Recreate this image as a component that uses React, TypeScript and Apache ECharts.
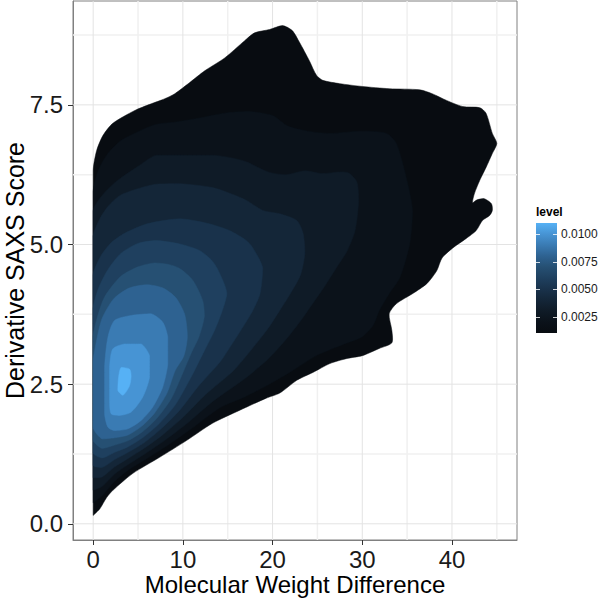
import React, { useEffect, useRef } from "react";
import * as echarts from "echarts";

// ---- axis ranges & ticks ----
const X_MIN = -2.25;
const X_MAX = 47.25;
const Y_MIN = -0.29;
const Y_MAX = 9.36;
const xMajorTicks = [0, 10, 20, 30, 40];
const xMinorTicks = [5, 15, 25, 35, 45];
const yMajorTicks = [0, 2.5, 5, 7.5];
const yMinorTicks = [1.25, 3.75, 6.25, 8.75];
const xTickLabels = ["0", "10", "20", "30", "40"];
const yTickLabels = ["0.0", "2.5", "5.0", "7.5"];

// ---- density contour levels (outer -> inner) ----
const levels = [0.001, 0.002, 0.003, 0.004, 0.005, 0.006, 0.007, 0.008, 0.009, 0.01, 0.011];
const bandColors = [
  "#080c11", "#0b121a", "#0f1b27", "#142638", "#19324b", "#1f405f",
  "#265073", "#2e6291", "#3a7bb3", "#4794d4", "#56b1f5",
];
const legendTicks = [0.0025, 0.005, 0.0075, 0.01];
const legendLabels = ["0.0025", "0.0050", "0.0075", "0.0100"];

// contour polygons in data coordinates [MW difference, SAXS score]
const contourL1 = [[0,0.15],[0,6.32],[0.38,6.68],[1.08,6.95],[2.19,7.17],[4.64,7.40],[6.31,7.51],[7.98,7.61],[9.1,7.70],[10.76,7.90],[12.43,8.11],[14.66,8.34],[16.89,8.65],[18.0,8.79],[19.67,8.85],[21.1,8.92],[22.2,8.83],[23.0,8.62],[24.1,8.29],[24.9,8.03],[25.6,7.94],[27.5,7.88],[30.0,7.83],[33.0,7.79],[36.4,7.77],[37.8,7.70],[39.4,7.58],[41.2,7.47],[43.1,7.45],[43.8,7.35],[44.5,6.99],[45.0,6.81],[44.5,6.63],[43.8,6.38],[43.1,6.15],[42.5,5.91],[42.3,5.75],[42.8,5.80],[43.6,5.82],[44.4,5.73],[44.5,5.61],[44.2,5.52],[43.4,5.43],[42.7,5.25],[41.6,5.11],[40.1,4.94],[38.9,4.76],[38.3,4.53],[37.2,4.30],[35.6,4.12],[33.8,3.94],[33.0,3.76],[33.3,3.46],[33.3,3.24],[31.9,3.14],[30.0,3.01],[28.3,2.96],[26.4,2.87],[24.5,2.71],[22.7,2.57],[20.8,2.34],[19.3,2.25],[16.3,2.03],[13.3,1.80],[10.4,1.49],[7.4,1.19],[4.4,0.90],[2.2,0.60],[1.5,0.47],[0.75,0.27],[0.2,0.18]];
const contourL2 = [[0,5.95],[0.5,6.3],[1.5,6.6],[3,6.85],[5,7.02],[7,7.15],[9.5,7.2],[12,7.27],[15,7.36],[17.5,7.38],[20,7.31],[21.7,7.12],[23.9,7.03],[26.4,6.99],[30,7.03],[32.7,6.99],[33.8,6.81],[34.9,6.2],[35.6,5.61],[35.3,5.02],[34.2,4.41],[33,4.12],[31.9,3.82],[31.2,3.55],[30,3.35],[28,3.22],[25,3.02],[22,2.72],[19.3,2.47],[17,2.28],[14.17,2.08],[11.03,1.71],[8.27,1.4],[5.92,1.16],[3.9,0.96],[2.4,0.76],[1,0.5],[0,0.375]];
const contourL3 = [[0,5.6],[0.85,5.85],[2.5,6.12],[5,6.4],[7,6.6],[9.7,6.6],[13.4,6.6],[15.5,6.55],[17.1,6.48],[19.5,6.3],[21.5,6.25],[23.6,6.32],[25.5,6.27],[27.5,6.3],[28.5,6.28],[29.4,6.12],[29.6,5.79],[29.2,5.25],[28.3,4.88],[27.1,4.58],[25.8,4.25],[24.5,3.95],[23.2,3.65],[21.5,3.3],[19.5,2.95],[17.08,2.62],[13.33,2.19],[10.57,1.81],[8.04,1.5],[5.84,1.26],[3.9,1.06],[2.4,0.89],[1,0.67],[0,0.6]];
const contourL4 = [[0,5.15],[0.7,5.45],[1.64,5.68],[3,5.88],[5,6.0],[7,6.08],[9.65,6.09],[13.3,6.02],[15.5,5.9],[17.1,5.79],[18.9,5.61],[20.8,5.55],[22.7,5.43],[23.4,5.2],[23.6,4.85],[23.1,4.45],[21.9,4.1],[20.8,3.82],[19.5,3.5],[17.8,3.15],[15.62,2.74],[12.5,2.31],[10.1,1.92],[7.8,1.6],[5.76,1.36],[3.9,1.17],[2.4,1.02],[1,0.84],[0,0.825]];
const contourL5 = [[0,4.45],[0.8,4.78],[2,5.03],[3.5,5.2],[6,5.37],[9.65,5.46],[12.7,5.38],[15.2,5.25],[17,5.08],[17.8,4.94],[18.9,4.58],[18.6,4.12],[17.8,3.82],[16.6,3.5],[15.2,3.15],[14.16,2.9],[11.66,2.45],[9.63,2.03],[7.57,1.7],[5.67,1.45],[3.9,1.28],[2.4,1.15],[1,1.01],[0,1.05]];
const contourL6 = [[0,3.85],[0.6,4.22],[1.64,4.55],[3.08,4.84],[5,5.02],[7,5.07],[9.65,5.01],[11.9,4.89],[13.2,4.72],[13.8,4.58],[14.6,4.3],[14.9,4.12],[14.4,3.82],[13.5,3.45],[12.4,3.1],[10.83,2.6],[9.16,2.13],[7.34,1.79],[5.59,1.55],[3.9,1.38],[2.4,1.28],[1,1.18],[0,1.275]];
const contourL7 = [[0,3.35],[0.5,3.72],[1.3,4.07],[3.08,4.43],[5,4.6],[6.84,4.67],[8.5,4.64],[9.65,4.57],[11.1,4.36],[12.2,4.0],[12.4,3.72],[11.8,3.35],[11,3.08],[9.99,2.7],[8.7,2.24],[7.11,1.89],[5.51,1.65],[3.9,1.49],[2.4,1.41],[1,1.35],[0,1.5]];
const contourL8 = [[0,2.9],[0.4,3.3],[1,3.68],[2.3,4.03],[4,4.22],[6,4.28],[7.8,4.22],[9.2,4.05],[10.2,3.75],[10.5,3.35],[10.1,3.0],[9.16,2.75],[8.23,2.34],[6.88,1.99],[5.43,1.75],[3.88,1.59],[2.4,1.54],[1,1.52],[0,1.725]];
const contourL9 = [[1.27,2.8],[1.64,3.34],[2.38,3.64],[4.23,3.73],[6.46,3.76],[7.76,3.61],[8.32,3.34],[8.32,2.86],[7.76,2.45],[6.65,2.09],[5.35,1.85],[3.86,1.7],[2.38,1.67],[1.64,1.73],[1.27,1.97]];
const contourL10 = [[1.83,2.8],[2.18,3.13],[3.5,3.22],[5.35,3.22],[6.28,3.01],[6.28,2.62],[5.53,2.27],[4.23,2.0],[2.94,1.94],[2.0,1.97],[1.83,2.21]];
const contourL11 = [[2.83,2.62],[3.12,2.8],[4.05,2.77],[4.23,2.65],[4.05,2.47],[3.31,2.3],[2.75,2.39]];

const contours = [contourL1, contourL2, contourL3, contourL4, contourL5, contourL6, contourL7, contourL8, contourL9, contourL10, contourL11];

const FONT = "'Liberation Sans', Arial, Helvetica, sans-serif";

type GridSpec = { dir: "x" | "y"; v: number; major: boolean };
const gridSpecs: GridSpec[] = [
  ...xMinorTicks.map((v) => ({ dir: "x" as const, v, major: false })),
  ...yMinorTicks.map((v) => ({ dir: "y" as const, v, major: false })),
  ...xMajorTicks.map((v) => ({ dir: "x" as const, v, major: true })),
  ...yMajorTicks.map((v) => ({ dir: "y" as const, v, major: true })),
];

// colour bar geometry
const BAR_X = 536;
const BAR_Y = 223;
const BAR_W = 21;
const BAR_H = 110;

function buildOption() {
  const lvMin = levels[0];
  const lvMax = levels[levels.length - 1];
  const levelToY = (v: number) => BAR_Y + ((lvMax - v) / (lvMax - lvMin)) * BAR_H;
  const stops = bandColors.map((c, i) => ({ offset: i / (bandColors.length - 1), color: c }));

  const graphics: any[] = [
    {
      type: "text",
      x: BAR_X,
      y: BAR_Y - 11,
      style: { text: "level", font: `bold 12px ${FONT}`, fill: "#000", textVerticalAlign: "middle" },
    },
    {
      type: "rect",
      shape: { x: BAR_X, y: BAR_Y, width: BAR_W, height: BAR_H },
      style: {
        fill: { type: "linear", x: 0, y: 1, x2: 0, y2: 0, colorStops: stops },
      },
    },
  ];
  legendTicks.forEach((t, i) => {
    const y = Math.round(levelToY(t)) + 0.5;
    graphics.push({
      type: "line",
      shape: { x1: BAR_X, y1: y, x2: BAR_X + 4, y2: y },
      style: { stroke: "#ffffff", lineWidth: 1, opacity: 0.8 },
    });
    graphics.push({
      type: "line",
      shape: { x1: BAR_X + BAR_W - 4, y1: y, x2: BAR_X + BAR_W, y2: y },
      style: { stroke: "#ffffff", lineWidth: 1, opacity: 0.8 },
    });
    graphics.push({
      type: "text",
      x: BAR_X + BAR_W + 4,
      y: levelToY(t),
      style: {
        text: legendLabels[i],
        font: `12px ${FONT}`,
        fill: "#1a1a1a",
        textVerticalAlign: "middle",
      },
    });
  });

  return {
    animation: false,
    backgroundColor: "#ffffff",
    grid: {
      left: 73,
      top: 1,
      width: 444,
      height: 539,
      containLabel: false,
      outerBoundsMode: "none",
      show: true,
      borderColor: "#808080",
      borderWidth: 1,
      backgroundColor: "#ffffff",
    },
    xAxis: {
      type: "value",
      min: X_MIN,
      max: X_MAX,
      name: "Molecular Weight Difference",
      nameLocation: "middle",
      nameGap: 34,
      nameMoveOverlap: false,
      nameTextStyle: { fontSize: 24, lineHeight: 20, color: "#000", fontFamily: FONT },
      axisLine: { show: true, onZero: false, lineStyle: { color: "#808080", width: 1 } },
      axisTick: { show: true, customValues: xMajorTicks, length: 5, lineStyle: { color: "#333", width: 1 } },
      axisLabel: {
        customValues: xMajorTicks,
        formatter: (v: number) => xTickLabels[xMajorTicks.indexOf(v)] ?? String(v),
        fontSize: 24,
        lineHeight: 18,
        color: "#1a1a1a",
        fontFamily: FONT,
        margin: 10,
      },
      splitLine: { show: false },
    },
    yAxis: {
      type: "value",
      min: Y_MIN,
      max: Y_MAX,
      name: "Derivative SAXS Score",
      nameLocation: "middle",
      nameGap: 46,
      nameRotate: 90,
      nameMoveOverlap: false,
      nameTextStyle: { fontSize: 25, color: "#000", fontFamily: FONT },
      axisLine: { show: true, onZero: false, lineStyle: { color: "#808080", width: 1 } },
      axisTick: { show: true, customValues: yMajorTicks, length: 5, lineStyle: { color: "#333", width: 1 } },
      axisLabel: {
        customValues: yMajorTicks,
        formatter: (v: number) => yTickLabels[yMajorTicks.indexOf(v)] ?? String(v),
        fontSize: 24,
        color: "#1a1a1a",
        fontFamily: FONT,
        margin: 10,
      },
      splitLine: { show: false },
    },
    series: [
      {
        type: "custom",
        name: "grid",
        silent: true,
        data: gridSpecs.map(() => [0, 0]),
        renderItem: (params: any, api: any) => {
          const s = gridSpecs[params.dataIndex];
          const p1 = s.dir === "x" ? api.coord([s.v, Y_MIN]) : api.coord([X_MIN, s.v]);
          const p2 = s.dir === "x" ? api.coord([s.v, Y_MAX]) : api.coord([X_MAX, s.v]);
          return {
            type: "line",
            shape: { x1: p1[0], y1: p1[1], x2: p2[0], y2: p2[1] },
            style: { stroke: s.major ? "#e3e3e3" : "#f0f0f0", lineWidth: s.major ? 1 : 1.5 },
          };
        },
      },
      {
        type: "custom",
        name: "density",
        silent: true,
        data: contours.map(() => [0, 0]),
        renderItem: (params: any, api: any) => {
          const i = params.dataIndex;
          const pts = contours[i].map((p) => api.coord(p));
          return {
            type: "polygon",
            shape: { points: pts, smooth: 0.25, smoothConstraint: [pts[0], pts[0]] },
            style: { fill: bandColors[i], stroke: bandColors[i], lineWidth: 0.5 },
          };
        },
      },
    ],
    graphic: graphics,
  };
}

export default function App() {
  const ref = useRef<HTMLDivElement>(null);
  useEffect(() => {
    if (!ref.current) return;
    const chart = echarts.init(ref.current, null, { renderer: "svg" });
    chart.setOption(buildOption() as any);
    return () => chart.dispose();
  }, []);
  return (
    <div
      ref={ref}
      style={{ position: "absolute", left: 0, top: 0, width: 600, height: 598, background: "#fff" }}
    />
  );
}
